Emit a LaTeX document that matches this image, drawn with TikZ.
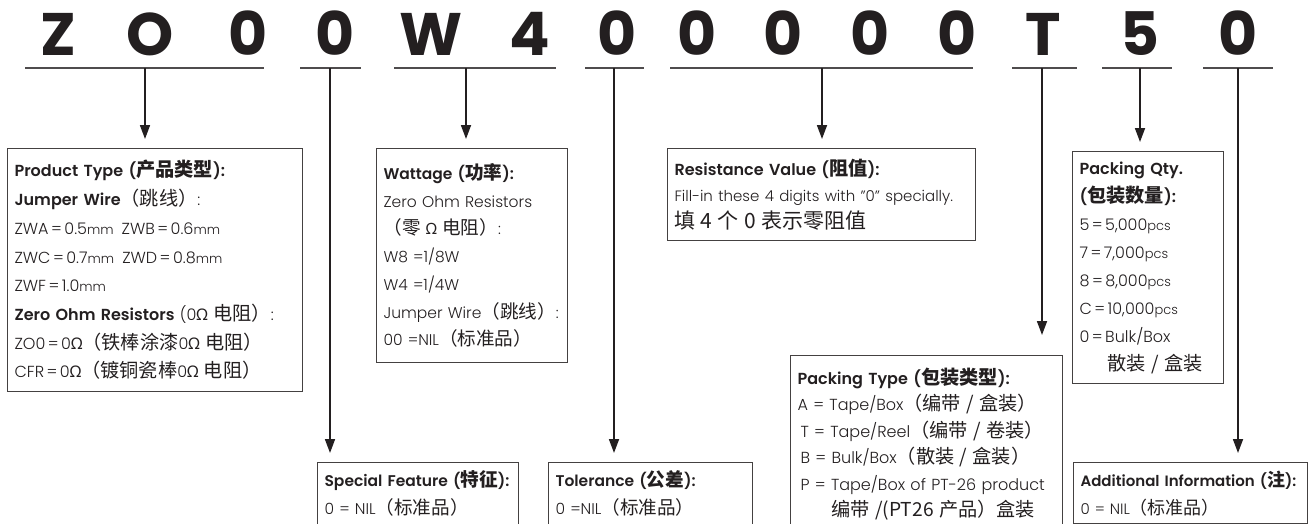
\documentclass[tikz,border=0pt]{standalone}
\usepackage{fontspec}
\setmainfont{Poppins}[UprightFont={* Light}, BoldFont={* SemiBold}]
\newfontfamily\codefont{Poppins Bold}
\newfontfamily\cjk{Noto Sans CJK SC}[Scale=1.2]
\newfontfamily\ohmfont{Noto Sans}
\newcommand{\zh}[1]{{\cjk #1}}
\newcommand{\ohm}{{\ohmfont Ω}}
\newcommand{\sm}[1]{{\fontsize{13}{13}\selectfont #1}}
\newcommand{\eq}{\hspace{2.5pt}=\hspace{2.5pt}}
\usetikzlibrary{arrows.meta}
\definecolor{ink}{HTML}{231F20}
\hyphenpenalty=10000
\exhyphenpenalty=10000

\begin{document}
\begin{tikzpicture}[x=1pt, y=-1pt, >={Triangle[length=14pt, width=10pt]},
    letter/.style={font=\codefont\fontsize{60}{60}\selectfont, text=ink, anchor=base, inner sep=0pt},
    bar/.style={draw=ink!80, line width=1.5pt},
    infobox/.style={draw=ink!85, line width=1.1pt, anchor=north west, align=left,
        inner xsep=7pt, text=ink, font=\fontsize{16}{28}\selectfont},
    feed/.style={->, draw=ink, line width=1.7pt, shorten >=9pt}]

    \useasboundingbox (0,0) rectangle (1311,523);
    \clip (0,0) rectangle (1311,523);

    % --- 型号字符 ---
    \foreach \ch/\x [count=\i] in {Z/58, O/150, 0/248, 0/335, W/431, 4/530, 0/617,
        0/697, 0/783, 0/870, 0/957, T/1043, 5/1140, 0/1238}
        \node[letter] (c\i) at (\x,55) {\ch};

    % --- 分组下划线 ---
    \foreach \a/\b/\t/\n in {25/264/145/prod, 300/361/330/feat, 394/556/466/watt,
        585/644/614/tol, 670/973/822/res, 1012/1077/1042/pack, 1102/1172/1140/qty,
        1203/1273/1238/add} {
        \draw[bar] (\a,68) -- (\b,68);
        \coordinate (u-\n) at (\t,68);
    }

    % --- 上排说明框 ---
    \node[infobox, text width=281pt, minimum height=243pt, font=\fontsize{16}{28.7}\selectfont] (prod) at (7,148) {
        \textbf{Product~Type~(\zh{产品类型}):}\\
        \textbf{Jumper~Wire}\zh{（跳线）}:\\
        ZWA\eq 0.5\sm{mm}\hspace{8pt}ZWB\eq 0.6\sm{mm}\\
        ZWC\eq 0.7\sm{mm}\hspace{8pt}ZWD\eq 0.8\sm{mm}\\
        ZWF\eq 1.0\sm{mm}\\
        \textbf{Zero~Ohm~Resistors}~(0\ohm~\zh{电阻）}:\\
        ZO0\eq 0\ohm\zh{（铁棒涂漆}0\ohm~\zh{电阻）}\\
        CFR\eq 0\ohm\zh{（镀铜瓷棒}0\ohm~\zh{电阻）}};

    \node[infobox, text width=177pt, minimum height=214pt, font=\fontsize{15.5}{27.7}\selectfont] (watt) at (376,148) {
        \textbf{Wattage~(\zh{功率}):}\\
        Zero~Ohm~Resistors\\
        \zh{（零 }\ohm~\zh{电阻）}:\\
        W8 =1/8W\\
        W4 =1/4W\\
        Jumper~Wire\zh{（跳线）}:\\
        00~=NIL\zh{（标准品）}};

    \node[infobox, text width=294pt, minimum height=92pt, font=\fontsize{16}{26.5}\selectfont] (res) at (667,148) {
        \textbf{Resistance~Value~(\zh{阻值}):}\\
        {\fontsize{15}{16}\selectfont Fill-in~these~4~digits~with~"0"~specially.}\\
        {\fontsize{17.5}{18}\selectfont\zh{填 4 个 0 表示零阻值}}};

    \node[infobox, text width=137pt, minimum height=232pt] (qty) at (1072,151) {
        \textbf{Packing~Qty.}\\
        \textbf{(\zh{包装数量}):}\\
        5\eq 5,000\sm{pcs}\\
        7\eq 7,000\sm{pcs}\\
        8\eq 8,000\sm{pcs}\\
        C\eq 10,000\sm{pcs}\\
        0\eq Bulk/Box\\
        \hspace*{28pt}\zh{散装 / 盒装}};

    % --- 下排说明框 ---
    \node[infobox, text width=258pt, inner ysep=12pt, font=\fontsize{16}{26.5}\selectfont] (pack) at (790,355) {
        \textbf{Packing~Type~(\zh{包装类型}):}\\
        A~=~Tape/Box\zh{（编带 / 盒装）}\\
        \hspace*{3pt}T~=~Tape/Reel\zh{（编带 / 卷装）}\\
        \hspace*{3pt}B~=~Bulk/Box\zh{（散装 / 盒装）}\\
        \hspace*{3pt}P~=~Tape/Box~of~PT-26~product\\
        \hspace*{34pt}\zh{编带 /(PT26 产品）盒装}};

    \node[infobox, text width=187pt, inner ysep=8pt, font=\fontsize{15.5}{28}\selectfont] (feat) at (317,462) {
        \textbf{Special~Feature~(\zh{特征}):}\\
        0~=~NIL\zh{（标准品）}};

    \node[infobox, text width=190pt, inner ysep=8pt, font=\fontsize{15.5}{28}\selectfont] (tol) at (548,462) {
        \textbf{Tolerance~(\zh{公差}):}\\
        0~=NIL\zh{（标准品）}};

    \node[infobox, text width=220pt, inner ysep=8pt, font=\fontsize{15}{28}\selectfont] (add) at (1073,462) {
        \mbox{\textbf{Additional~Information~(\zh{注}):}}\\
        0~=~NIL\zh{（标准品）}};

    % --- 箭头 ---
    \foreach \n in {prod, feat, watt, tol, res, qty, add}
        \draw[feed] (u-\n) -- (u-\n |- \n.north);
    \draw[feed, shorten >=20pt] (u-pack) -- (u-pack |- pack.north);
\end{tikzpicture}
\end{document}
